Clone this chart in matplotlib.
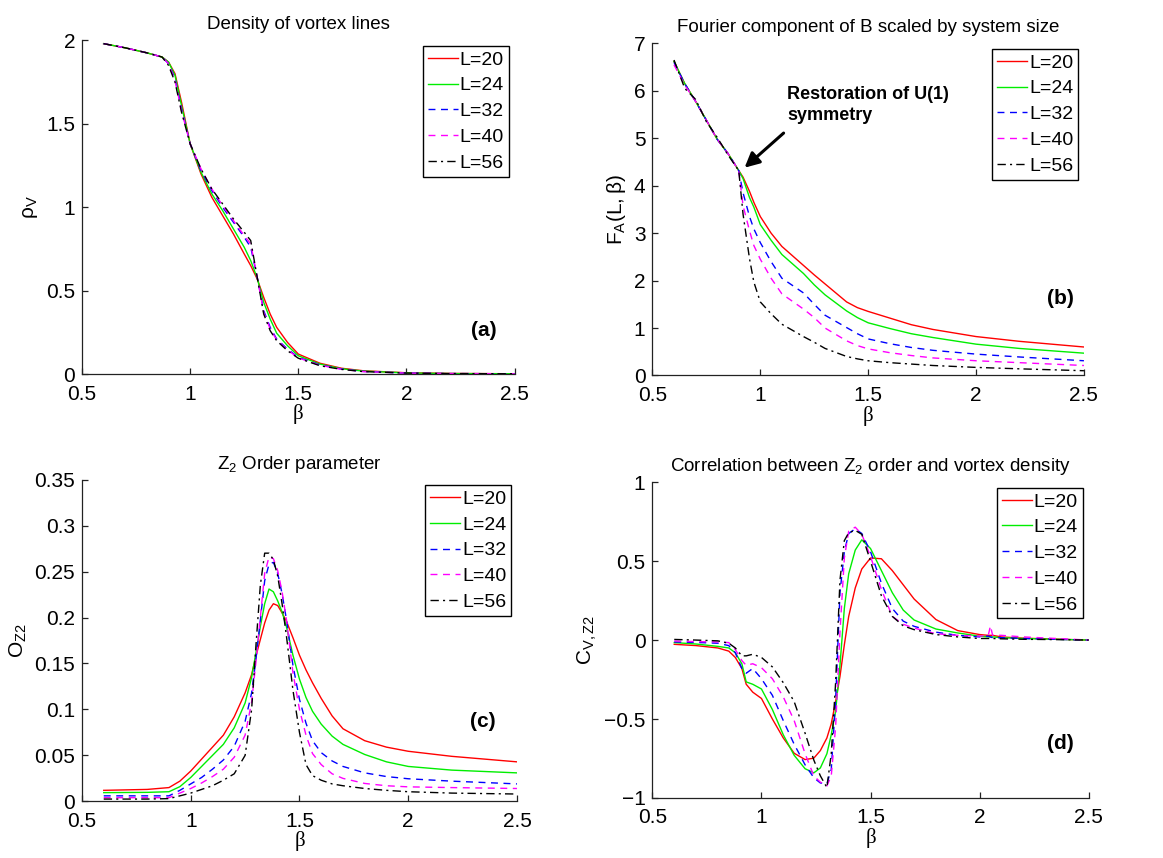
import matplotlib
matplotlib.use("Agg")
import matplotlib.pyplot as plt

plt.rcParams['font.family'] = ['Liberation Sans', 'DejaVu Sans']
plt.rcParams['mathtext.fontset'] = 'custom'
plt.rcParams['mathtext.rm'] = 'Liberation Sans'
plt.rcParams['mathtext.it'] = 'Liberation Sans:italic'
plt.rcParams['mathtext.bf'] = 'Liberation Sans:bold'

# ---------------- data ----------------
labels = ['L=20', 'L=24', 'L=32', 'L=40', 'L=56']

# (a) density of vortex lines
beta_a = [0.6, 0.7, 0.8, 0.87, 0.9, 0.93, 0.96, 1.0, 1.05, 1.1, 1.15, 1.2, 1.25,
          1.28, 1.31, 1.34, 1.37, 1.4, 1.45, 1.5, 1.6, 1.7, 1.8, 2.0, 2.2, 2.5]
rho_L20 = [1.98, 1.955, 1.925, 1.90, 1.87, 1.80, 1.63, 1.38, 1.20, 1.06, 0.95, 0.84, 0.72,
           0.65, 0.57, 0.46, 0.36, 0.28, 0.19, 0.12, 0.065, 0.035, 0.02, 0.008, 0.004, 0.002]
rho_L24 = [1.98, 1.955, 1.925, 1.90, 1.87, 1.79, 1.61, 1.38, 1.21, 1.08, 0.98, 0.87, 0.76,
           0.68, 0.575, 0.43, 0.33, 0.245, 0.17, 0.11, 0.06, 0.032, 0.018, 0.007, 0.003, 0.002]
rho_L32 = [1.98, 1.955, 1.925, 1.90, 1.86, 1.77, 1.59, 1.38, 1.22, 1.10, 1.00, 0.91, 0.82,
           0.76, 0.58, 0.38, 0.28, 0.21, 0.15, 0.10, 0.055, 0.03, 0.016, 0.006, 0.003, 0.002]
rho_L40 = [1.98, 1.955, 1.925, 1.90, 1.86, 1.76, 1.58, 1.38, 1.23, 1.11, 1.01, 0.92, 0.83,
           0.78, 0.58, 0.37, 0.27, 0.205, 0.145, 0.097, 0.053, 0.029, 0.015, 0.006, 0.003, 0.002]
rho_L56 = [1.98, 1.955, 1.925, 1.90, 1.85, 1.75, 1.57, 1.38, 1.23, 1.11, 1.02, 0.93, 0.85,
           0.80, 0.58, 0.36, 0.26, 0.20, 0.14, 0.095, 0.05, 0.028, 0.015, 0.006, 0.003, 0.002]

# (b) Fourier component scaled by system size
beta_b = [0.6, 0.65, 0.7, 0.75, 0.8, 0.85, 0.9, 0.92, 0.95, 0.97, 1.0, 1.05, 1.1, 1.2, 1.25,
          1.3, 1.4, 1.45, 1.5, 1.6, 1.7, 1.8, 2.0, 2.2, 2.5]
fa_L20 = [6.62, 6.15, 5.78, 5.38, 4.98, 4.68, 4.32, 4.18, 3.88, 3.65, 3.35, 3.00, 2.72, 2.32,
          2.12, 1.93, 1.55, 1.43, 1.35, 1.21, 1.07, 0.97, 0.82, 0.72, 0.60]
fa_L24 = [6.62, 6.15, 5.78, 5.38, 4.98, 4.68, 4.32, 4.15, 3.75, 3.55, 3.18, 2.85, 2.55, 2.15,
          1.91, 1.70, 1.36, 1.22, 1.11, 0.99, 0.88, 0.80, 0.66, 0.57, 0.47]
fa_L32 = [6.60, 6.15, 5.78, 5.38, 4.98, 4.68, 4.32, 3.85, 3.35, 3.09, 2.80, 2.40, 2.05, 1.74,
          1.50, 1.27, 1.01, 0.88, 0.77, 0.67, 0.59, 0.53, 0.45, 0.39, 0.31]
fa_L40 = [6.55, 6.12, 5.78, 5.38, 4.98, 4.68, 4.32, 3.58, 3.05, 2.74, 2.45, 2.05, 1.72, 1.40,
          1.22, 1.00, 0.73, 0.63, 0.56, 0.48, 0.42, 0.37, 0.31, 0.27, 0.21]
fa_L56 = [6.65, 6.05, 5.82, 5.35, 5.02, 4.65, 4.32, 3.40, 2.46, 1.97, 1.55, 1.30, 1.08, 0.82,
          0.70, 0.57, 0.40, 0.35, 0.31, 0.27, 0.24, 0.21, 0.17, 0.14, 0.10]

# (c) Z2 order parameter
beta_c = [0.6, 0.8, 0.9, 0.95, 1.0, 1.05, 1.1, 1.15, 1.2, 1.25, 1.28, 1.3, 1.32, 1.34, 1.36,
          1.38, 1.40, 1.42, 1.44, 1.47, 1.5, 1.53, 1.56, 1.6, 1.65, 1.7, 1.8, 1.9, 2.0, 2.2, 2.5]
oz_L20 = [0.012, 0.013, 0.015, 0.022, 0.033, 0.046, 0.059, 0.072, 0.092, 0.118, 0.138, 0.158,
          0.176, 0.194, 0.208, 0.215, 0.213, 0.205, 0.196, 0.178, 0.159, 0.143, 0.129, 0.112,
          0.093, 0.079, 0.066, 0.059, 0.0545, 0.049, 0.043]
oz_L24 = [0.0095, 0.0098, 0.0105, 0.016, 0.026, 0.038, 0.050, 0.062, 0.080, 0.107, 0.135,
          0.162, 0.190, 0.215, 0.231, 0.228, 0.218, 0.206, 0.190, 0.159, 0.133, 0.113, 0.098,
          0.084, 0.071, 0.062, 0.051, 0.043, 0.038, 0.034, 0.031]
oz_L32 = [0.006, 0.006, 0.006, 0.012, 0.019, 0.026, 0.035, 0.045, 0.060, 0.087, 0.118, 0.155,
          0.197, 0.240, 0.258, 0.260, 0.248, 0.226, 0.198, 0.148, 0.111, 0.085, 0.066, 0.053,
          0.044, 0.038, 0.031, 0.027, 0.0246, 0.022, 0.019]
oz_L40 = [0.004, 0.004, 0.004, 0.009, 0.014, 0.020, 0.027, 0.035, 0.048, 0.072, 0.108, 0.152,
          0.200, 0.248, 0.266, 0.264, 0.251, 0.228, 0.198, 0.140, 0.100, 0.072, 0.052, 0.040,
          0.030, 0.025, 0.0195, 0.017, 0.0158, 0.015, 0.014]
oz_L56 = [0.0025, 0.0025, 0.003, 0.006, 0.009, 0.013, 0.017, 0.023, 0.030, 0.050, 0.100, 0.170,
          0.235, 0.270, 0.270, 0.263, 0.245, 0.215, 0.180, 0.121, 0.075, 0.040, 0.028, 0.023,
          0.019, 0.017, 0.014, 0.012, 0.0105, 0.009, 0.008]

# (d) correlation between Z2 order and vortex density
beta_d = [0.6, 0.7, 0.8, 0.85, 0.88, 0.91, 0.93, 0.96, 1.0, 1.05, 1.1, 1.15, 1.2, 1.24, 1.27,
          1.3, 1.32, 1.34, 1.36, 1.38, 1.40, 1.43, 1.46, 1.5, 1.55, 1.6, 1.65, 1.7, 1.8, 1.9,
          2.0, 2.04, 2.05, 2.06, 2.1, 2.2, 2.35, 2.5]
cv_L20 = [-0.027, -0.035, -0.05, -0.07, -0.11, -0.18, -0.28, -0.33, -0.37, -0.50, -0.62, -0.717,
          -0.757, -0.748, -0.70, -0.62, -0.53, -0.39, -0.23, -0.03, 0.15, 0.33, 0.45, 0.52, 0.515,
          0.44, 0.35, 0.26, 0.13, 0.06, 0.035, 0.03, 0.03, 0.03, 0.02, 0.012, 0.006, 0.0]
cv_L24 = [-0.016, -0.025, -0.04, -0.05, -0.08, -0.15, -0.265, -0.28, -0.31, -0.44, -0.60, -0.73,
          -0.815, -0.841, -0.81, -0.72, -0.60, -0.45, -0.16, 0.20, 0.42, 0.57, 0.635, 0.58, 0.44,
          0.30, 0.19, 0.127, 0.07, 0.045, 0.025, 0.02, 0.02, 0.02, 0.015, 0.01, 0.005, 0.0]
cv_L32 = [-0.012, -0.015, -0.02, -0.035, -0.08, -0.18, -0.21, -0.18, -0.245, -0.35, -0.51, -0.66,
          -0.79, -0.872, -0.905, -0.91, -0.82, -0.38, 0.30, 0.56, 0.675, 0.705, 0.675, 0.56, 0.36,
          0.20, 0.12, 0.087, 0.05, 0.03, 0.02, 0.025, 0.02, 0.015, 0.015, 0.01, 0.005, 0.0]
cv_L40 = [-0.006, -0.01, -0.012, -0.016, -0.06, -0.13, -0.16, -0.15, -0.175, -0.245, -0.36, -0.51,
          -0.72, -0.86, -0.90, -0.924, -0.86, -0.55, 0.05, 0.52, 0.69, 0.715, 0.67, 0.53, 0.32,
          0.15, 0.10, 0.076, 0.04, 0.03, 0.025, 0.03, 0.09, 0.03, 0.03, 0.02, 0.01, 0.0]
cv_L56 = [0.004, 0.0, -0.005, -0.02, -0.05, -0.10, -0.10, -0.09, -0.11, -0.17, -0.27, -0.39,
          -0.59, -0.76, -0.86, -0.934, -0.72, -0.27, 0.38, 0.63, 0.68, 0.695, 0.67, 0.50, 0.28,
          0.15, 0.09, 0.066, 0.035, 0.02, 0.01, 0.01, 0.01, 0.01, 0.008, 0.005, 0.003, 0.0]

# ---------------- styling ----------------
colors = ['#ff0000', '#00ee00', '#0000ff', '#ff00ff', '#000000']
dashes = [None, None, (5, 4), (5, 4), (6, 3, 1.5, 3)]


def draw_panel(ax, x, series, yticks, ylim, title, ylabel, tag, tagpos):
    for y, c, d, lab in zip(series, colors, dashes, labels):
        line, = ax.plot(x, y, color=c, lw=1.0, label=lab)
        if d is not None:
            line.set_dashes(d)
    ax.set_xlim(0.5, 2.5)
    ax.set_ylim(*ylim)
    ax.set_xticks([0.5, 1, 1.5, 2, 2.5])
    ax.set_xticklabels(['0.5', '1', '1.5', '2', '2.5'])
    ax.set_yticks(yticks)
    ax.set_yticklabels([('%g' % t).replace('-', '\u2212') for t in yticks])
    ax.spines['top'].set_visible(False)
    ax.spines['right'].set_visible(False)
    for s in ('left', 'bottom'):
        ax.spines[s].set_linewidth(0.9)
        ax.spines[s].set_color('#222222')
    ax.tick_params(direction='in', length=4, width=0.9, labelsize=15, colors='#222222',
                   labelcolor='black')
    ax.tick_params(axis='x', pad=7.5)
    ax.tick_params(axis='y', pad=5)
    ax.set_title(title, fontsize=13.5, pad=8)
    ax.set_ylabel(ylabel, fontsize=15)
    ax.set_xlabel('β', fontsize=15, family=['Liberation Serif'], labelpad=0.5)
    leg = ax.legend(loc='upper right', fontsize=14, fancybox=False, framealpha=1,
                    borderaxespad=0.3, handlelength=1.55, handletextpad=0.1,
                    labelspacing=0.42, borderpad=0.25)
    leg.get_frame().set_edgecolor('black')
    leg.get_frame().set_linewidth(1.0)
    ax.text(tagpos[0], tagpos[1], tag, transform=ax.transAxes, fontsize=15,
            fontweight='bold', ha='right', va='center')


fig = plt.figure(figsize=(11.63, 8.58), dpi=100)

ax_a = fig.add_axes([0.0705, 0.564, 0.372, 0.389])
draw_panel(ax_a, beta_a, [rho_L20, rho_L24, rho_L32, rho_L40, rho_L56],
           [0, 0.5, 1, 1.5, 2], (0, 2), 'Density of vortex lines',
           r'$\mathrm{\rho_V}$', '(a)', (0.958, 0.131))

ax_b = fig.add_axes([0.561, 0.5624, 0.371, 0.387])
draw_panel(ax_b, beta_b, [fa_L20, fa_L24, fa_L32, fa_L40, fa_L56],
           [0, 1, 2, 3, 4, 5, 6, 7], (0, 7), 'Fourier component of B scaled by system size',
           r'$\mathrm{F_A(L,\beta)}$', '(b)', (0.977, 0.233))
ax_b.annotate('', xy=(0.927, 4.38), xytext=(1.108, 5.11),
              arrowprops=dict(arrowstyle='-|>', color='black', lw=2.2, mutation_scale=22,
                              shrinkA=0, shrinkB=0))
ax_b.text(1.126, 5.7, 'Restoration of U(1)\nsymmetry', fontsize=13, fontweight='bold',
          ha='left', va='center', linespacing=1.3)

ax_c = fig.add_axes([0.0705, 0.066, 0.374, 0.375])
draw_panel(ax_c, beta_c, [oz_L20, oz_L24, oz_L32, oz_L40, oz_L56],
           [0, 0.05, 0.1, 0.15, 0.2, 0.25, 0.3, 0.35], (0, 0.35),
           r'$\mathrm{Z_2}$ Order parameter', r'$\mathrm{O_{Z2}}$', '(c)', (0.952, 0.247))

ax_d = fig.add_axes([0.561, 0.07, 0.375, 0.368])
draw_panel(ax_d, beta_d, [cv_L20, cv_L24, cv_L32, cv_L40, cv_L56],
           [-1, -0.5, 0, 0.5, 1], (-1, 1),
           r'Correlation between $\mathrm{Z_2}$ order and vortex density',
           r'$\mathrm{C_{V,Z2}}$', '(d)', (0.966, 0.173))

fig.savefig('out.png', dpi=100)
